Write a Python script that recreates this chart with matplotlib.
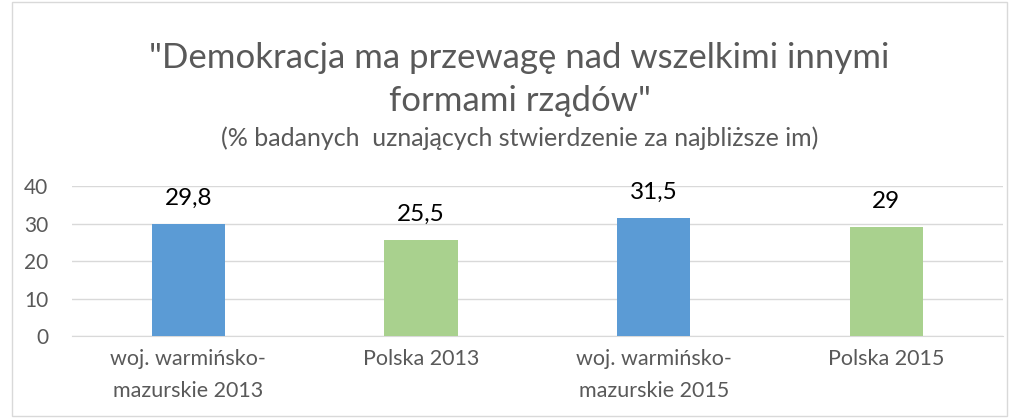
import matplotlib.pyplot as plt
from matplotlib.patches import Rectangle
import numpy as np

# Data
categories = ["woj. warmińsko-\nmazurskie 2013", "Polska 2013", "woj. warmińsko-\nmazurskie 2015", "Polska 2015"]
values = [29.8, 25.5, 31.5, 29]
value_labels = ["29,8", "25,5", "31,5", "29"]
bar_colors = ["#5B9BD5", "#A9D18E", "#5B9BD5", "#A9D18E"]

plt.rcParams['font.family'] = ['Lato', 'DejaVu Sans']
gray = "#595959"

fig = plt.figure(figsize=(10.15, 4.18), dpi=100)
ax = fig.add_axes([0.0709, 0.196, 0.917, 0.359])

x = np.arange(len(categories))
ax.bar(x, values, width=0.315, color=bar_colors, zorder=3)

for xi, v, lab in zip(x, values, value_labels):
    ax.annotate(lab, (xi, v), xytext=(0, 11), textcoords='offset points',
                ha='center', va='bottom', fontsize=17.5, color='black')

ax.set_xlim(-0.5, len(categories) - 0.5)
ax.set_ylim(0, 40)
ax.set_yticks([0, 10, 20, 30, 40])
ax.yaxis.grid(True, color='#D9D9D9', linewidth=1, zorder=0)
for s in ax.spines.values():
    s.set_visible(False)
ax.spines['bottom'].set_visible(True)
ax.spines['bottom'].set_color('#D9D9D9')
ax.tick_params(axis='both', length=0, labelcolor=gray)
ax.tick_params(axis='y', pad=17, labelsize=15)
ax.tick_params(axis='x', pad=9, labelsize=15.5)
ax.set_xticks(x)
ax.set_xticklabels(categories, linespacing=1.75)

# Titles
fig.text(0.512, 0.81, '"Demokracja ma przewagę nad wszelkimi innymi\nformami rządów"',
         ha='center', va='center', fontsize=25, color=gray, linespacing=1.4)
fig.text(0.512, 0.67, '(% badanych  uznających stwierdzenie za najbliższe im)',
         ha='center', va='center', fontsize=18, color=gray)

# Chart border
fig.patches.append(Rectangle((0.012, 0.005), 0.98, 0.99, transform=fig.transFigure,
                             fill=False, edgecolor='#D9D9D9', linewidth=1))

fig.savefig('out.png', dpi=100)
